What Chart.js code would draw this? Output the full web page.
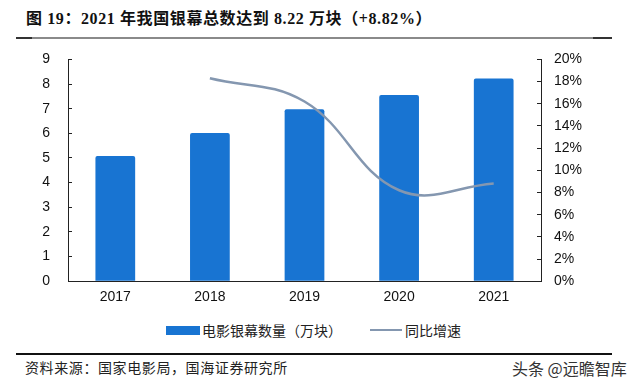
<!DOCTYPE html>
<html>
<head>
<meta charset="utf-8">
<script src="https://cdn.jsdelivr.net/npm/chart.js@4/dist/chart.umd.min.js"></script>
<style>
  html, body { margin: 0; padding: 0; background: #fff; }
  body { width: 640px; height: 388px; position: relative; overflow: hidden; font-family: "Liberation Sans", "Noto Sans CJK SC", sans-serif; }
  .title { position: absolute; left: 26px; top: 5px; font: bold 16px "Liberation Serif", "Noto Sans CJK SC", serif; letter-spacing: 0.6px; color: #111; white-space: nowrap; }
  .rule-top { position: absolute; left: 16px; top: 37px; width: 596px; height: 2px;
    background: linear-gradient(to right, #333 0, #333 16px, #8a8a8a 16px, #8a8a8a 577px, #333 577px); }
  .rule-bot { position: absolute; left: 16px; top: 353px; width: 596px; height: 2px; background: #111; }
  .source { position: absolute; left: 25px; top: 357px; font: 14px "Noto Sans CJK SC", sans-serif; letter-spacing: 0.6px; color: #222; white-space: nowrap; }
  .mark { position: absolute; left: 512px; top: 356px; font: 16px "Noto Sans CJK SC", sans-serif; color: #333; white-space: nowrap; }
  .legend { position: absolute; top: 320px; left: 166px; font: 14px "Noto Sans CJK SC", sans-serif; color: #222; display: flex; align-items: center; white-space: nowrap; }
  .legend .box { display: inline-block; width: 34px; height: 9px; background: #1874D2; margin-right: 2px; }
  .legend .ln { display: inline-block; width: 32px; height: 2px; background: #8497B0; margin: 0 3px 0 28px; }
  #wrap { position: absolute; left: 0; top: 29px; width: 640px; height: 285px; }
</style>
</head>
<body>
<div class="title">图 19：2021 年我国银幕总数达到 8.22 万块（+8.82%）</div>
<div class="rule-top"></div>
<div id="wrap"><canvas id="c"></canvas></div>
<div class="legend"><span class="box"></span>电影银幕数量（万块）<span class="ln"></span>同比增速</div>
<div class="rule-bot"></div>
<div class="source">资料来源：国家电影局，国海证券研究所</div>
<div class="mark">头条 @远瞻智库</div>
<script>
const years = ["2017", "2018", "2019", "2020", "2021"];
const screens = [5.08, 6.01, 6.98, 7.56, 8.22];
const growth = [null, 18.3, 16.2, 8.2, 8.82];

const tickFont = { family: "'Liberation Sans', Arial, sans-serif", size: 14 };

new Chart(document.getElementById("c"), {
  data: {
    labels: years,
    datasets: [
      {
        type: "line",
        label: "同比增速",
        data: growth,
        yAxisID: "y1",
        borderColor: "#8497B0",
        borderWidth: 2.5,
        pointRadius: 0,
        tension: 0.4,
        order: 0
      },
      {
        type: "bar",
        label: "电影银幕数量（万块）",
        data: screens,
        yAxisID: "y",
        backgroundColor: "#1874D2",
        borderRadius: 2,
        borderSkipped: "bottom",
        barPercentage: 0.42,
        categoryPercentage: 1,
        order: 1
      }
    ]
  },
  options: {
    responsive: true,
    maintainAspectRatio: false,
    animation: false,
    layout: { padding: { top: 0, left: 0, right: 0, bottom: 0 } },
    plugins: {
      legend: { display: false },
      tooltip: { enabled: false }
    },
    scales: {
      x: {
        grid: { display: false, drawTicks: false },
        border: { display: true, color: "#222", width: 1 },
        ticks: { color: "#111", font: tickFont, padding: 8 }
      },
      y: {
        position: "left",
        min: 0,
        max: 9,
        afterFit: (s) => { s.width = 68; },
        grid: { drawOnChartArea: false, tickLength: -4, color: "#222" },
        border: { display: true, color: "#222", width: 1 },
        ticks: { stepSize: 1, color: "#111", font: tickFont, padding: 22 }
      },
      y1: {
        position: "right",
        min: 0,
        max: 20,
        afterFit: (s) => { s.width = 99; },
        grid: { drawOnChartArea: false, tickLength: -4, color: "#222" },
        border: { display: true, color: "#222", width: 1 },
        ticks: { stepSize: 2, color: "#111", font: tickFont, padding: 17, callback: (v) => v + "%" }
      }
    }
  }
});
</script>
</body>
</html>
